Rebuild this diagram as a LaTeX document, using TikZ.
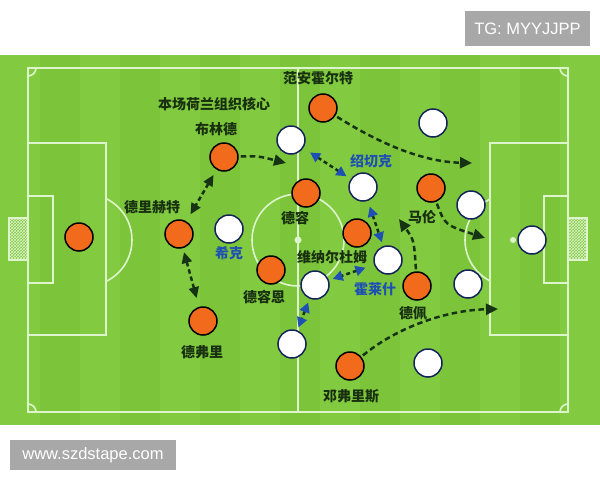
\documentclass[tikz,border=0pt]{standalone}
\usepackage{fontspec}
\setmainfont{Liberation Sans}
\newfontfamily\cjk{Noto Sans CJK SC}
\usetikzlibrary{arrows.meta,patterns}

\definecolor{pitch}{RGB}{124,197,58}
\definecolor{pitchstripe}{RGB}{130,202,64}
\definecolor{pitchline}{RGB}{222,244,205}
\definecolor{oranj}{RGB}{242,107,29}
\definecolor{navy}{RGB}{20,36,90}
\definecolor{runline}{RGB}{22,52,20}
\definecolor{namegreen}{RGB}{24,48,16}
\definecolor{nameblue}{RGB}{30,80,180}
\definecolor{markgray}{RGB}{168,168,168}

\tikzset{
  nl/.style={pitchline, line width=1.6pt},
  oplayer/.style={circle, draw=black, line width=1.5pt, fill=oranj, minimum size=28pt, inner sep=0pt},
  wplayer/.style={circle, draw=navy, line width=1.5pt, fill=white, minimum size=28pt, inner sep=0pt},
  oname/.style={font=\cjk\bfseries\fontsize{14}{14}\selectfont, text=namegreen, inner sep=0pt},
  wname/.style={oname, text=nameblue},
  run/.style={runline, line width=2.5pt, dash pattern=on 5.5pt off 3.5pt, -{Triangle[length=12pt,width=11pt]}},
  swap/.style={runline, line width=2.5pt, dash pattern=on 4pt off 3pt,
    {Triangle[length=10pt,width=10pt,color=nameblue]}-{Triangle[length=10pt,width=10pt,color=nameblue]}},
  pass/.style={runline, line width=2.5pt, dash pattern=on 4.5pt off 3pt,
    {Triangle[length=11pt,width=10pt]}-{Triangle[length=11pt,width=10pt]}},
  markbox/.style={fill=markgray, text=white, inner sep=0pt, font=\fontsize{16.5}{16.5}\selectfont},
}

\begin{document}
\begin{tikzpicture}[x=1pt,y=1pt,yscale=-1,xscale=1]
\useasboundingbox (0,0) rectangle (600,480);

%Shape: Rectangle [pitch]
\fill[pitch] (0,55) rectangle (600,425);
\foreach \s in {0,80,...,560} {
  \fill[pitchstripe] (\s,55) rectangle (\s+40,425);
}

%Shape: pitch lines
\draw[nl] (28,68) rectangle (568,412);
\draw[nl] (298,68) -- (298,412);
\draw[nl] (298,240) circle (46);
\fill[pitchline] (298,240) circle (3.5);
\fill[pitchline] (513,240) circle (3);
% left end
\draw[nl] (28,143) rectangle (106,335);
\draw[nl] (28,196) rectangle (53,283);
\draw[nl, pattern=crosshatch, pattern color=pitchline] (9,218) rectangle (28,260);
\draw[nl] (9,218) rectangle (28,260);
% right end
\draw[nl] (490,143) rectangle (568,335);
\draw[nl] (544,196) rectangle (568,283);
\draw[nl, pattern=crosshatch, pattern color=pitchline] (568,218) rectangle (587,260);
\draw[nl] (568,218) rectangle (587,260);
% penalty arcs and corners
\begin{scope}
  \clip (106,55) rectangle (200,425);
  \draw[nl] (86,240) circle (46);
\end{scope}
\begin{scope}
  \clip (400,55) rectangle (490,425);
  \draw[nl] (511,240) circle (46);
\end{scope}
\begin{scope}
  \clip (28,68) rectangle (568,412);
  \foreach \cx/\cy in {28/68,568/68,28/412,568/412} {
    \draw[nl] (\cx,\cy) circle (8);
  }
\end{scope}

% Orange players
\node[oplayer] (ogk) at (79,237) {};
\node[oplayer] (deligt) at (179,234) {};
\node[oplayer] (blind) at (224,157) {};
\node[oplayer] (devrij) at (203,321) {};
\node[oplayer] (deroon) at (271,270) {};
\node[oplayer] (dejong) at (306,193) {};
\node[oplayer] (aanholt) at (323,108) {};
\node[oplayer] (wijnaldum) at (357,233) {};
\node[oplayer] (malen) at (431,188) {};
\node[oplayer] (depay) at (417,286) {};
\node[oplayer] (dumfries) at (350,366) {};

% White players
\node[wplayer] (wa) at (291,140) {};
\node[wplayer] (wb) at (433,123) {};
\node[wplayer] (soucek) at (363,187) {};
\node[wplayer] (schick) at (229,229) {};
\node[wplayer] (wc) at (471,205) {};
\node[wplayer] (wgk) at (532,240) {};
\node[wplayer] (holes) at (388,260) {};
\node[wplayer] (wd) at (315,285) {};
\node[wplayer] (we) at (468,284) {};
\node[wplayer] (wf) at (292,344) {};
\node[wplayer] (wg) at (428,363) {};

% Text Node
\node[oname] (laholt) at (318,78) {范安霍尔特};
\node[oname] (lacore) at (214,104) {本场荷兰组织核心};
\node[oname] (lablind) at (216,129) {布林德};
\node[oname] (laligt) at (152,207) {德里赫特};
\node[wname] (laschick) at (229,253) {希克};
\node[oname] (lajong) at (295,218) {德容};
\node[oname] (laroon) at (264,297) {德容恩};
\node[oname] (lawijn) at (332,257) {维纳尔杜姆};
\node[wname] (lasoucek) at (371,161) {绍切克};
\node[wname] (laholes) at (375,289) {霍莱什};
\node[oname] (lamalen) at (422,217) {马伦};
\node[oname] (ladepay) at (413,313) {德佩};
\node[oname] (lavrij) at (202,352) {德弗里};
\node[oname] (ladumf) at (351,396) {邓弗里斯};

% runs
\coordinate (blindT) at (286,163);
\coordinate (holtT) at (472,163);
\coordinate (malenT) at (485,238);
\coordinate (depayT) at (399,219);
\coordinate (dumfT) at (498,309);
\draw[run, shorten <=2pt] (blind) .. controls (258,156) .. (blindT);
\draw[run, shorten <=2pt] (aanholt) .. controls (390,150) and (430,162) .. (holtT);
\draw[run, shorten <=2pt] (malen) .. controls (445,225) .. (malenT);
\draw[run, shorten <=2pt] (depay) .. controls (414,240) .. (depayT);
\draw[run, shorten <=2pt] (dumfries) .. controls (400,325) and (450,310) .. (dumfT);

% passing links
\draw[pass, shorten <=6pt, shorten >=8pt] (blind) -- (deligt);
\draw[pass, shorten <=4pt, shorten >=9pt] (deligt) -- (devrij);

% marking duels
\draw[swap, shorten <=8pt, shorten >=5pt] (wa) -- (soucek);
\draw[swap, shorten <=6pt, shorten >=4pt] (soucek) -- (holes);
\draw[swap, shorten <=9pt, shorten >=4pt] (holes) -- (wd);
\draw[swap, shorten <=4pt, shorten >=3pt] (wd) -- (wf);

% watermarks
\node[markbox, minimum width=125pt, minimum height=35pt] (tgmark) at (527.5,28.5) {TG: MYYJJPP};
\node[markbox, minimum width=166pt, minimum height=30pt] (sitemark) at (93,455) {www.szdstape.com};

\end{tikzpicture}
\end{document}
